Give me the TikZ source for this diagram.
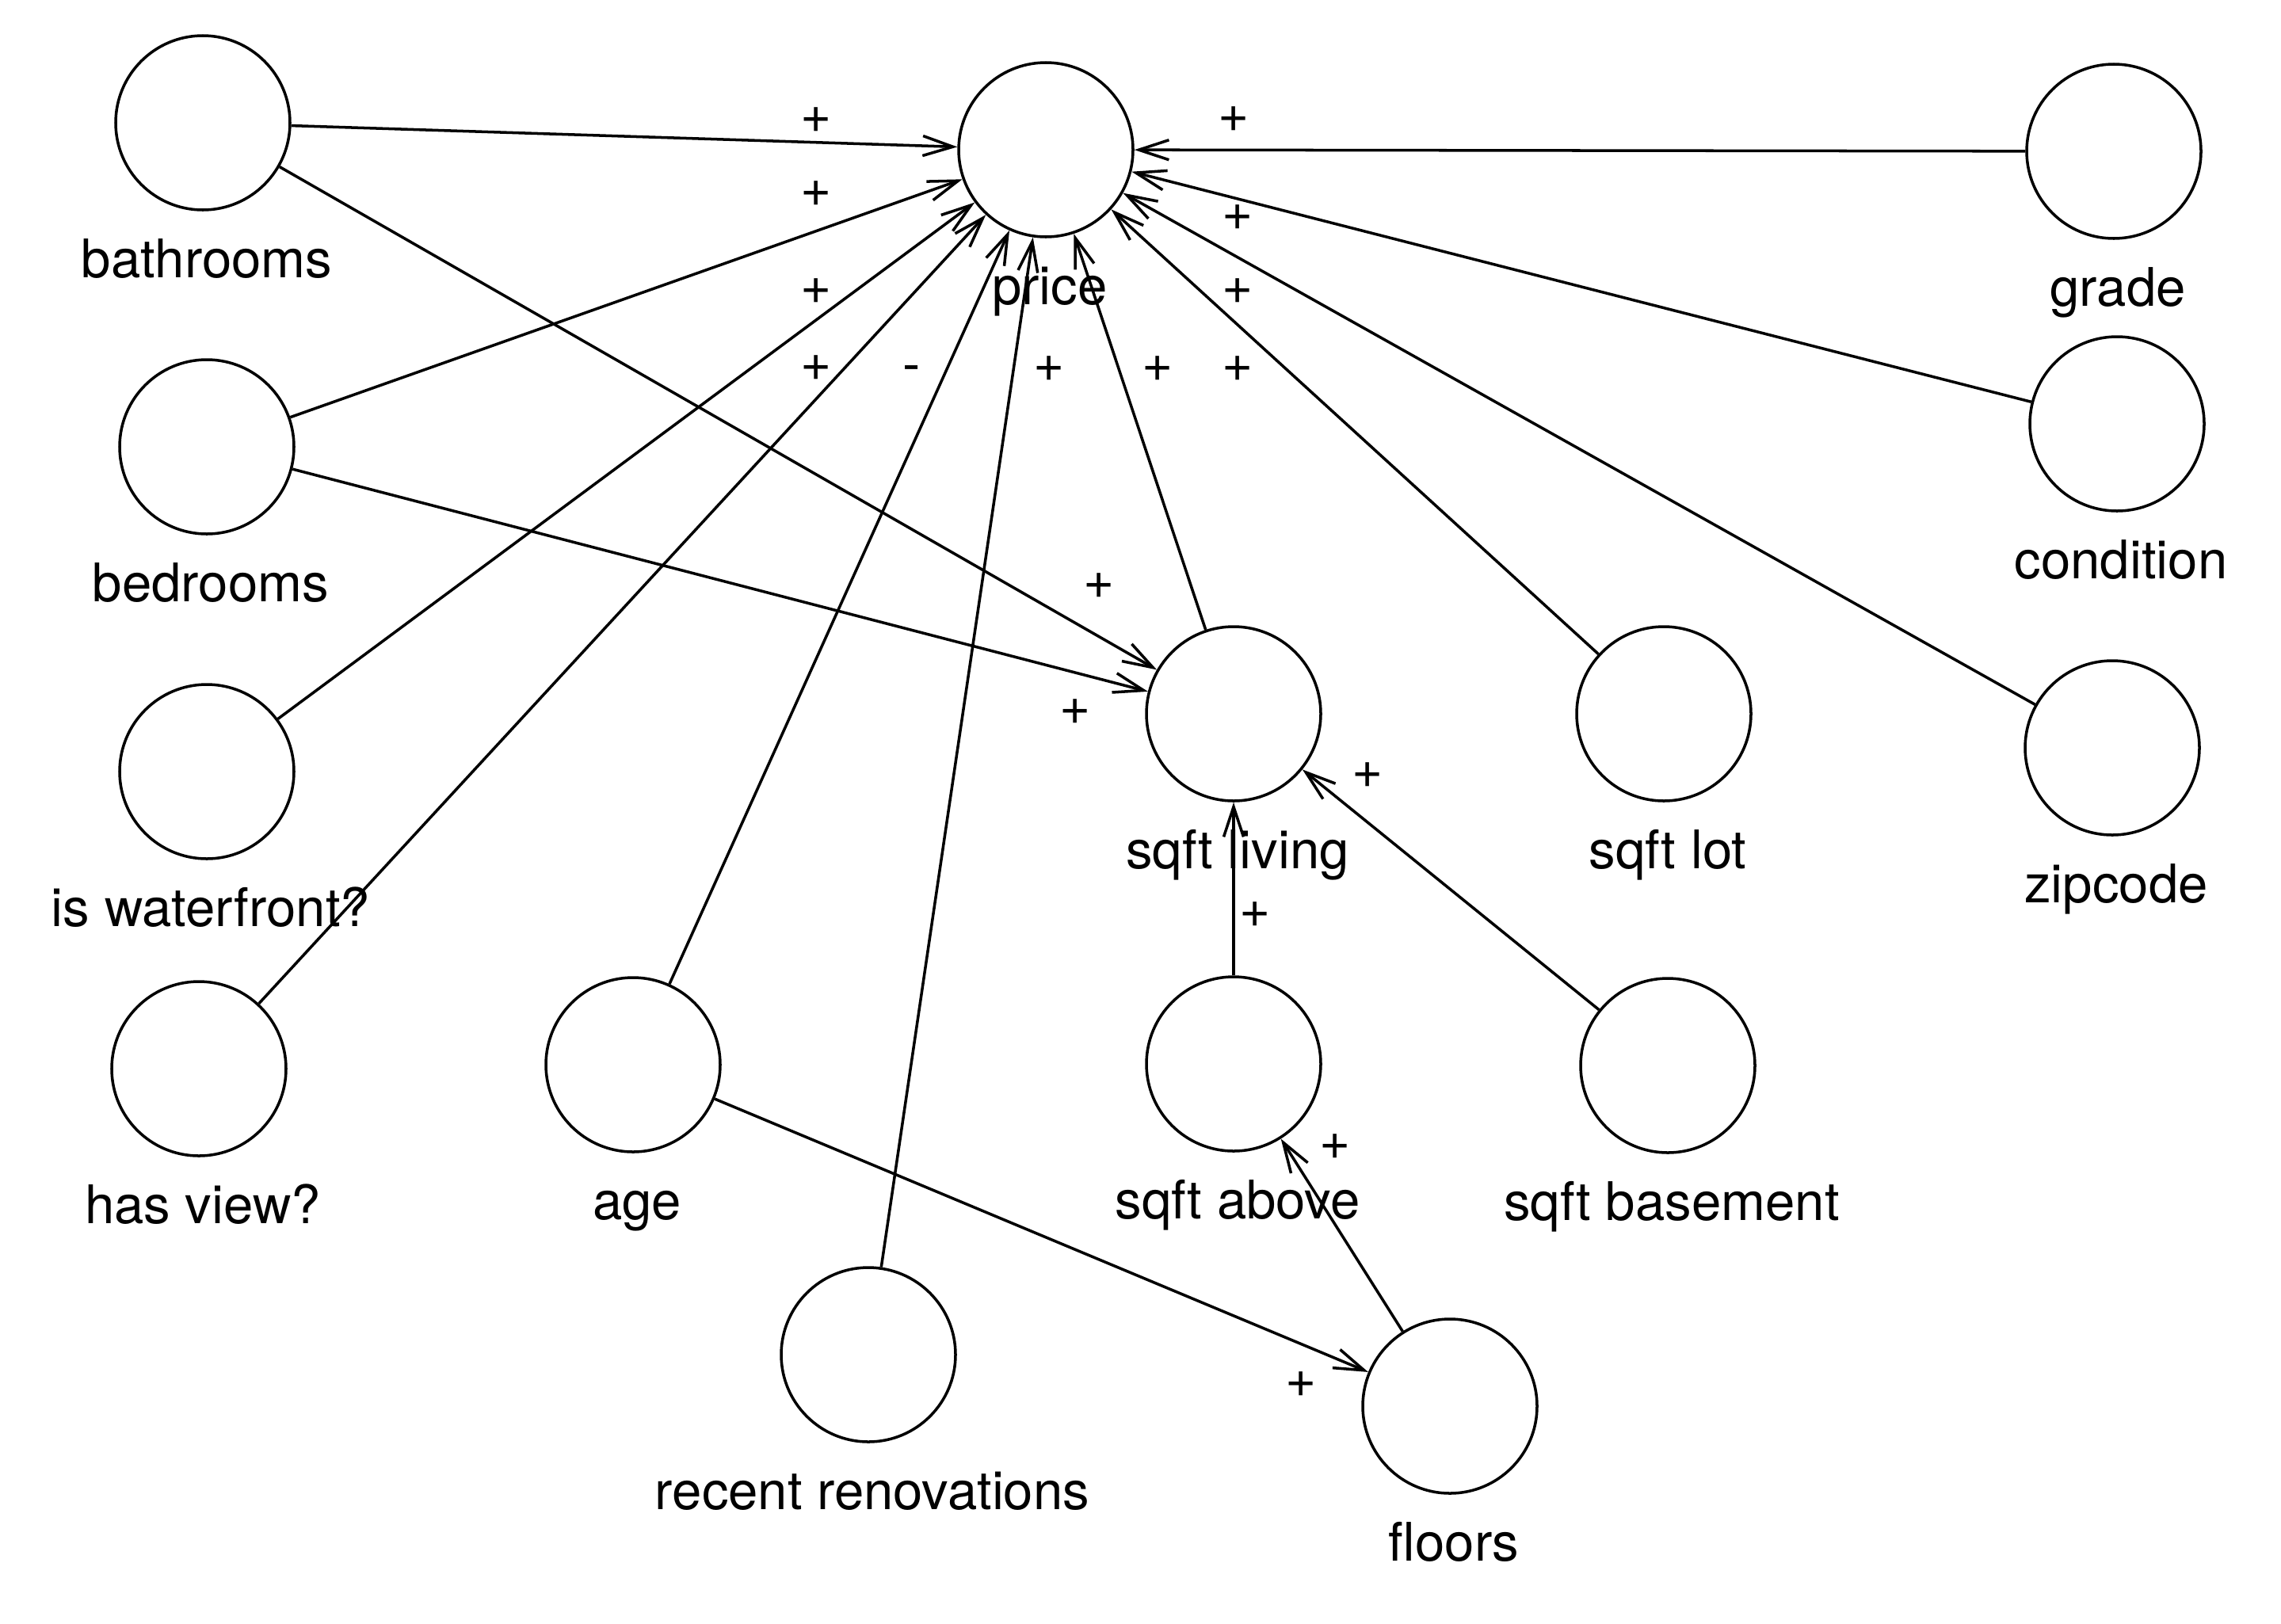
\documentclass[tikz,border=0pt]{standalone}
\usepackage{fontspec}
\setmainfont{TeX Gyre Heros}
\usetikzlibrary{arrows.meta}

\tikzstyle{var}=[circle,draw,minimum size=2.2cm,inner sep=0pt]
\tikzstyle{txt}=[anchor=base,inner sep=0pt,xshift=0.05cm]
\tikzstyle{sign}=[inner sep=0pt]

\begin{document}
\begin{tikzpicture}[->, >={Straight Barb[length=0.38cm,width=0.25cm]}, line width=1pt,
                    font=\fontsize{19.1}{22}\selectfont]
		\useasboundingbox (0,0) rectangle (28.79,-20.49);
		\node [var] (price)  at (13.20, -1.89)  {};
		\node [var] (bath)   at ( 2.56, -1.55)  {};
		\node [var] (bed)    at ( 2.61, -5.64)  {};
		\node [var] (water)  at ( 2.61, -9.74)  {};
		\node [var] (view)   at ( 2.51,-13.49)  {};
		\node [var] (age)    at ( 7.99,-13.44)  {};
		\node [var] (renov)  at (10.96,-17.10)  {};
		\node [var] (living) at (15.57, -9.01)  {};
		\node [var] (above)  at (15.57,-13.43)  {};
		\node [var] (base)   at (21.05,-13.45)  {};
		\node [var] (floors) at (18.30,-17.75)  {};
		\node [var] (lot)    at (21.00, -9.01)  {};
		\node [var] (grade)  at (26.68, -1.91)  {};
		\node [var] (cond)   at (26.72, -5.35)  {};
		\node [var] (zip)    at (26.66, -9.44)  {};

		\node [txt] (lprice)  at (13.20, -3.84)  {price};
		\node [txt] (lbath)   at ( 2.56, -3.50)  {bathrooms};
		\node [txt] (lbed)    at ( 2.61, -7.59)  {bedrooms};
		\node [txt] (lwater)  at ( 2.61,-11.69)  {is waterfront?};
		\node [txt] (lview)   at ( 2.51,-15.44)  {has view?};
		\node [txt] (lage)    at ( 7.99,-15.39)  {age};
		\node [txt] (lrenov)  at (10.96,-19.05)  {recent renovations};
		\node [txt] (lliving) at (15.57,-10.96)  {sqft living};
		\node [txt] (labove)  at (15.57,-15.38)  {sqft above};
		\node [txt] (lbase)   at (21.05,-15.40)  {sqft basement};
		\node [txt] (lfloors) at (18.30,-19.70)  {floors};
		\node [txt] (llot)    at (21.00,-10.96)  {sqft lot};
		\node [txt] (lgrade)  at (26.68, -3.86)  {grade};
		\node [txt] (lcond)   at (26.72, -7.30)  {condition};
		\node [txt] (lzip)    at (26.66,-11.39)  {zipcode};

		% signs of the effects
		\node [sign] (sbath)   at (10.30, -1.52) {+};
		\node [sign] (sbed)    at (10.30, -2.45) {+};
		\node [sign] (swater)  at (10.30, -3.68) {+};
		\node [sign] (sview)   at (10.30, -4.65) {+};
		\node [sign] (sage)    at (11.51, -4.72) {-};
		\node [sign] (srenov)  at (13.24, -4.66) {+};
		\node [sign] (sliving) at (14.61, -4.66) {+};
		\node [sign] (slot)    at (15.62, -4.66) {+};
		\node [sign] (szip)    at (15.62, -3.68) {+};
		\node [sign] (scond)   at (15.62, -2.75) {+};
		\node [sign] (sgrade)  at (15.57, -1.51) {+};
		\node [sign] (sbathl)  at (13.87, -7.40) {+};
		\node [sign] (sbedl)   at (13.57, -8.99) {+};
		\node [sign] (sbasel)  at (17.26, -9.79) {+};
		\node [sign] (sabovel) at (15.84,-11.55) {+};
		\node [sign] (sfloors) at (16.85,-14.48) {+};
		\node [sign] (sagef)   at (16.42,-17.48) {+};

		\draw (bath)   edge (price);
		\draw (bed)    edge (price);
		\draw (water)  edge (price);
		\draw (view)   edge (price);
		\draw (age)    edge (price);
		\draw (renov)  edge (price);
		\draw (living) edge (price);
		\draw (lot)    edge (price);
		\draw (zip)    edge (price);
		\draw (cond)   edge (price);
		\draw (grade)  edge (price);
		\draw (bath)   edge (living);
		\draw (bed)    edge (living);
		\draw (above)  edge (living);
		\draw (base)   edge (living);
		\draw (floors) edge (above);
		\draw (age)    edge (floors);
	\end{tikzpicture}
\end{document}
